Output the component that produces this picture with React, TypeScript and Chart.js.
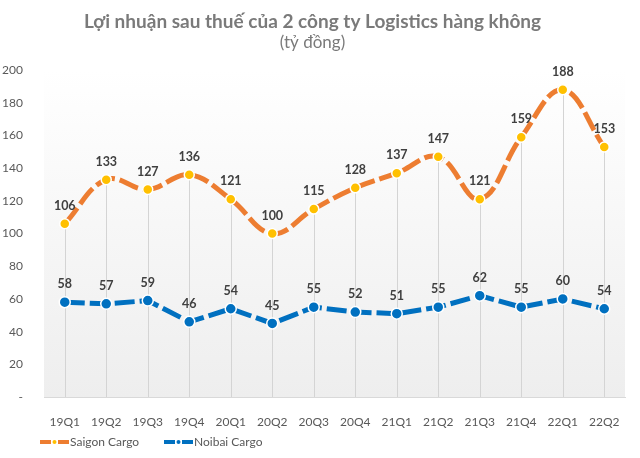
import React, { useEffect, useRef } from "react";
import { Chart, registerables } from "chart.js";

Chart.register(...registerables);

const categories = ["19Q1","19Q2","19Q3","19Q4","20Q1","20Q2","20Q3","20Q4","21Q1","21Q2","21Q3","21Q4","22Q1","22Q2"];
const saigonCargo = [106,133,127,136,121,100,115,128,137,147,121,159,188,153];
const noibaiCargo = [58,57,59,46,54,45,55,52,51,55,62,55,60,54];
const titleText = "Lợi nhuận sau thuế của 2 công ty Logistics hàng không";
const subtitleText = "(tỷ đồng)";
const legendLabels = ["Saigon Cargo", "Noibai Cargo"];

const FONT = "Lato, 'Open Sans', sans-serif";
const ORANGE = "#ED7D31";
const YELLOW = "#FFC000";
const BLUE = "#0070C0";

const bgPlugin = {
  id: "bgPlugin",
  beforeDatasetsDraw(chart: any) {
    const { ctx, chartArea, scales } = chart;
    const { left, right, top, bottom } = chartArea;
    ctx.save();
    const g = ctx.createLinearGradient(0, top, 0, bottom);
    g.addColorStop(0, "#ffffff");
    g.addColorStop(1, "#eeeeee");
    ctx.fillStyle = g;
    ctx.fillRect(left, top, right - left, bottom - top);
    ctx.strokeStyle = "#d4d4d4";
    ctx.lineWidth = 1;
    const m0 = chart.getDatasetMeta(0).data;
    const m1 = chart.getDatasetMeta(1).data;
    for (let i = 0; i < categories.length; i++) {
      const x = Math.round(scales.x.getPixelForValue(i)) + 0.5;
      const y = Math.min(m0[i].y, m1[i].y);
      ctx.beginPath();
      ctx.moveTo(x, y);
      ctx.lineTo(x, bottom);
      ctx.stroke();
    }
    ctx.restore();
  },
};

const labelPlugin = {
  id: "labelPlugin",
  afterDatasetsDraw(chart: any) {
    const { ctx } = chart;
    ctx.save();
    ctx.font = `bold 12.5px ${FONT}`;
    ctx.fillStyle = "#404040";
    ctx.textAlign = "center";
    ctx.textBaseline = "middle";
    chart.data.datasets.forEach((ds: any, di: number) => {
      const meta = chart.getDatasetMeta(di);
      meta.data.forEach((pt: any, i: number) => {
        ctx.fillText(String(ds.data[i]), pt.x, pt.y - 18);
      });
    });
    ctx.restore();
  },
  afterDraw(chart: any) {
    const { ctx, chartArea } = chart;
    const y = chartArea.bottom + 45;
    const items = [
      { x: 40, line: ORANGE, dot: YELLOW, text: legendLabels[0] },
      { x: 164, line: BLUE, dot: BLUE, text: legendLabels[1] },
    ];
    ctx.save();
    items.forEach((it) => {
      ctx.strokeStyle = it.line;
      ctx.lineWidth = 4;
      ctx.beginPath();
      ctx.moveTo(it.x, y);
      ctx.lineTo(it.x + 11, y);
      ctx.moveTo(it.x + 18, y);
      ctx.lineTo(it.x + 29, y);
      ctx.stroke();
      ctx.fillStyle = it.dot;
      ctx.beginPath();
      ctx.arc(it.x + 14.5, y, 2, 0, Math.PI * 2);
      ctx.fill();
      ctx.font = `12px ${FONT}`;
      ctx.fillStyle = "#595959";
      ctx.textAlign = "left";
      ctx.textBaseline = "middle";
      ctx.fillText(it.text, it.x + 30, y);
    });
    ctx.restore();
  },
};

export default function App() {
  const ref = useRef<HTMLCanvasElement>(null);
  useEffect(() => {
    if (!ref.current) return;
    const chart = new Chart(ref.current, {
      type: "line",
      data: {
        labels: categories,
        datasets: [
          {
            label: legendLabels[0],
            data: saigonCargo,
            borderColor: ORANGE,
            borderWidth: 5,
            borderDash: [20, 5],
            tension: 0.4,
            pointRadius: 5,
            pointBackgroundColor: YELLOW,
            pointBorderColor: "#ffffff",
            pointBorderWidth: 1.5,
          },
          {
            label: legendLabels[1],
            data: noibaiCargo,
            borderColor: BLUE,
            borderWidth: 5,
            borderDash: [20, 5],
            tension: 0,
            pointRadius: 5.5,
            pointBackgroundColor: BLUE,
            pointBorderColor: "#ffffff",
            pointBorderWidth: 1.5,
          },
        ],
      },
      options: {
        animation: false,
        responsive: false,
        maintainAspectRatio: false,
        layout: { padding: { left: 0, right: 15, top: 0, bottom: 0 } },
        plugins: {
          legend: { display: false },
          tooltip: { enabled: false },
          title: {
            display: true,
            text: titleText,
            color: "#7a7a7a",
            font: { family: FONT, size: 19, weight: "bold", lineHeight: 1.2 },
            padding: { top: 10, bottom: 0 },
          },
          subtitle: {
            display: true,
            text: subtitleText,
            color: "#7a7a7a",
            font: { family: FONT, size: 17, lineHeight: 1.2 },
            padding: { top: 0, bottom: 17 },
          },
        },
        scales: {
          x: {
            offset: true,
            grid: { display: false, offset: false },
            border: { display: true, color: "#d9d9d9", width: 1 },
            ticks: { color: "#595959", font: { family: FONT, size: 12 }, padding: 10, maxRotation: 0 },
            afterFit: (s: any) => { s.height = 61; },
          },
          y: {
            min: 0,
            max: 200,
            grid: { display: false },
            border: { display: false },
            ticks: {
              stepSize: 20,
              color: "#595959",
              font: { family: FONT, size: 12 },
              padding: 13,
              callback: (v: any) => (v === 0 ? "-" : String(v)),
            },
            afterFit: (s: any) => { s.width = 44; },
          },
        },
      },
      plugins: [bgPlugin, labelPlugin],
    });
    return () => chart.destroy();
  }, []);
  return (
    <div style={{ position: "fixed", left: 0, top: 0, width: 640, height: 458, background: "#fff" }}>
      <canvas ref={ref} width={640} height={458} style={{ width: 640, height: 458 }} />
    </div>
  );
}
